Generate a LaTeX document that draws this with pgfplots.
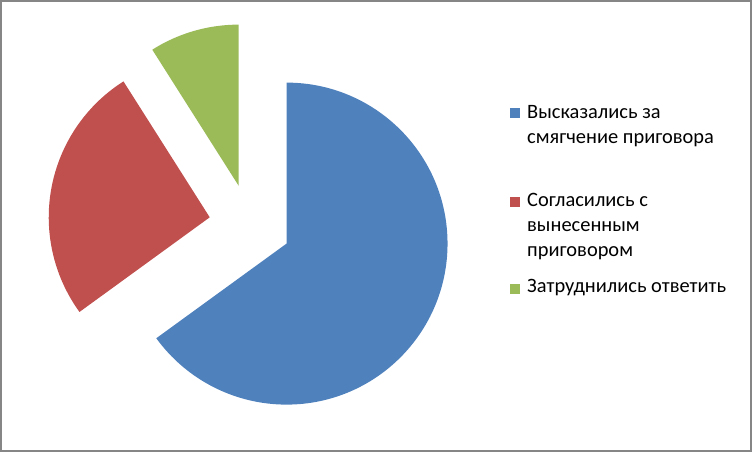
\documentclass[border=0pt]{standalone}
\usepackage{pgfplots}
\usepackage{pgfplotstable}
\pgfplotsset{compat=1.18}
\usepackage{fontspec}
\setmainfont{Carlito}

\definecolor{sBlue}{HTML}{4F81BD}
\definecolor{sRed}{HTML}{C0504D}
\definecolor{sGreen}{HTML}{9BBB59}
\definecolor{frameGray}{HTML}{868686}

% shares of the answers, percent
\pgfplotstableread{
label value
A 65
B 26
C 9
}\piedata

\pgfplotstablegetelem{0}{value}\of\piedata \let\va\pgfplotsretval
\pgfplotstablegetelem{1}{value}\of\piedata \let\vb\pgfplotsretval
\pgfplotstablegetelem{2}{value}\of\piedata \let\vc\pgfplotsretval

% pie geometry (axis units = bp)
\def\cx{250}\def\cy{227}\def\rad{161}\def\expl{41}
\pgfmathsetmacro\tot{\va+\vb+\vc}
\pgfmathsetmacro\aA{90}
\pgfmathsetmacro\aB{\aA-360*(\va/\tot)}
\pgfmathsetmacro\aC{\aB-360*(\vb/\tot)}
\pgfmathsetmacro\aD{\aC-360*(\vc/\tot)}
\pgfmathsetmacro\pAx{\cx+\expl*cos((\aA+\aB)/2)}
\pgfmathsetmacro\pAy{\cy+\expl*sin((\aA+\aB)/2)}
\pgfmathsetmacro\pBx{\cx+\expl*cos((\aB+\aC)/2)}
\pgfmathsetmacro\pBy{\cy+\expl*sin((\aB+\aC)/2)}
\pgfmathsetmacro\pCx{\cx+\expl*cos((\aC+\aD)/2)}
\pgfmathsetmacro\pCy{\cy+\expl*sin((\aC+\aD)/2)}

\begin{document}
\begin{tikzpicture}
\begin{axis}[
    width=752bp, height=452bp,
    scale only axis,
    xmin=0, xmax=752, ymin=0, ymax=452,
    hide axis,
    clip=false,
]
% slices
\fill[sBlue] (axis cs:\pAx,\pAy) -- ++(\aA:\rad bp) arc[start angle=\aA, end angle=\aB, radius=\rad bp] -- cycle;
\fill[sRed] (axis cs:\pBx,\pBy) -- ++(\aB:\rad bp) arc[start angle=\aB, end angle=\aC, radius=\rad bp] -- cycle;
\fill[sGreen] (axis cs:\pCx,\pCy) -- ++(\aC:\rad bp) arc[start angle=\aC, end angle=\aD, radius=\rad bp] -- cycle;

% legend
\fill[sBlue] (axis cs:510,334) rectangle (axis cs:520,344);
\fill[sRed] (axis cs:510,245) rectangle (axis cs:520,255);
\fill[sGreen] (axis cs:510,158) rectangle (axis cs:520,168);
\begin{scope}[every node/.style={anchor=base west, inner sep=0pt, font=\fontsize{20.5}{25}\selectfont}]
\node at (axis cs:527,333) {Высказались за};
\node at (axis cs:527,308) {смягчение приговора};
\node at (axis cs:527,245) {Согласились с};
\node at (axis cs:527,220) {вынесенным};
\node at (axis cs:527,195) {приговором};
\node at (axis cs:527,159) {Затруднились ответить};
\end{scope}

% chart border
\draw[frameGray, line width=2bp] (axis cs:1,1) rectangle (axis cs:751,451);
\end{axis}
\end{tikzpicture}
\end{document}
